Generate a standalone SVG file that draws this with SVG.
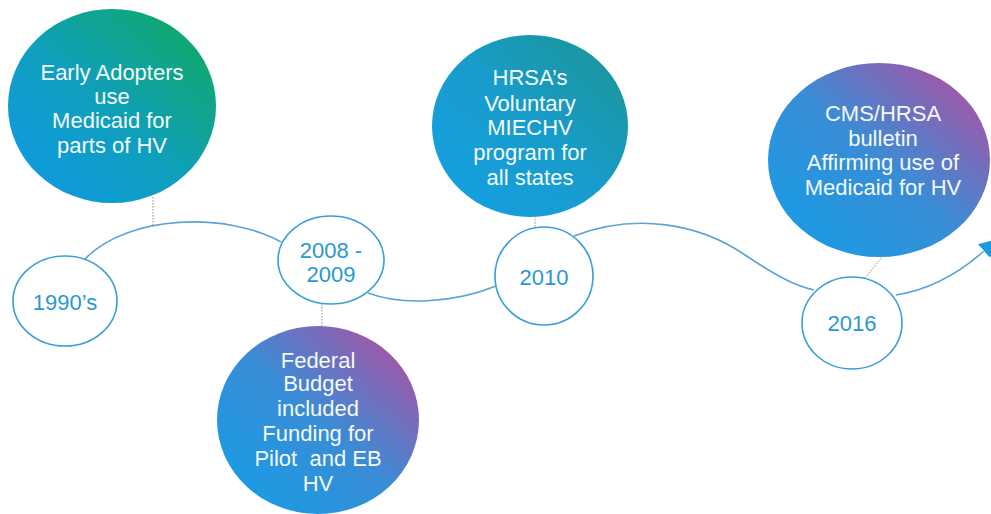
<svg xmlns="http://www.w3.org/2000/svg" width="991" height="514" viewBox="0 0 991 514">
  <style>
    .bubble-text { font-family: "Liberation Sans", Arial, sans-serif; font-size: 22px; fill: #f4f9fc; text-anchor: middle; }
    .year { fill: #ffffff; stroke: #3a9fd4; stroke-width: 1.6; }
    .year-text { font-family: "Liberation Sans", Arial, sans-serif; font-size: 22px; fill: #2a98d2; text-anchor: middle; }
    .curve { fill: none; stroke: #5ba4d4; stroke-width: 1.6; }
    .tick { fill: none; stroke: #8a8a8a; stroke-width: 1; stroke-dasharray: 1.5 1.5; }
  </style>
  <defs>
    <linearGradient id="gGreen" x1="0" y1="1" x2="1" y2="0">
      <stop offset="0" stop-color="#0f98e6"/>
      <stop offset="0.45" stop-color="#0f9fc0"/>
      <stop offset="1" stop-color="#10aa58"/>
    </linearGradient>
    <linearGradient id="gTeal" x1="0" y1="1" x2="1" y2="0">
      <stop offset="0" stop-color="#14a0e6"/>
      <stop offset="0.5" stop-color="#189ccc"/>
      <stop offset="1" stop-color="#1b9590"/>
    </linearGradient>
    <linearGradient id="gMagenta" x1="0" y1="1" x2="1" y2="0">
      <stop offset="0" stop-color="#10a0e8"/>
      <stop offset="0.5" stop-color="#3a8cd6"/>
      <stop offset="1" stop-color="#c0479a"/>
    </linearGradient>
    <marker id="arrow" viewBox="0 0 10 10" refX="0" refY="5" markerWidth="18" markerHeight="18" markerUnits="userSpaceOnUse" orient="auto">
      <path d="M0 0 L10 5 L0 10 Z" fill="#1a9ae0"/>
    </marker>
  </defs>

  <!-- timeline curves and leader ticks -->
  <g id="connectors">
    <path class="curve" d="M85 259 C128 214, 228 212, 281 242"/>
    <path class="curve" d="M368 293 C400 305, 452 304, 496 286"/>
    <path class="curve" d="M574 236 C636 212, 700 224, 745 255 C775 275, 795 286, 814 290"/>
    <path class="curve" d="M896 295 C928 290, 958 274, 984 251" marker-end="url(#arrow)"/>
    <line class="tick" x1="153" y1="197" x2="153" y2="225"/>
    <line class="tick" x1="322" y1="304" x2="322" y2="327"/>
    <line class="tick" x1="535" y1="216" x2="535" y2="229"/>
    <line class="tick" x1="883" y1="256" x2="865" y2="278"/>
  </g>

  <g id="node-early-adopters">
    <ellipse cx="112" cy="106" rx="104" ry="97" fill="url(#gGreen)"/>
    <text class="bubble-text" x="112" y="80">Early Adopters</text>
    <text class="bubble-text" x="112" y="104">use</text>
    <text class="bubble-text" x="112" y="128">Medicaid for</text>
    <text class="bubble-text" x="112" y="153">parts of HV</text>
  </g>

  <g id="node-1990s">
    <ellipse class="year" cx="65" cy="301" rx="52" ry="45"/>
    <text class="year-text" x="65" y="310">1990’s</text>
  </g>

  <g id="node-2008-2009">
    <ellipse class="year" cx="331" cy="260" rx="53" ry="44"/>
    <text class="year-text" x="331" y="258">2008 -</text>
    <text class="year-text" x="331" y="282">2009</text>
  </g>

  <g id="node-federal-budget">
    <ellipse cx="318" cy="420" rx="101" ry="94" fill="url(#gMagenta)"/>
    <text class="bubble-text" x="318" y="368">Federal</text>
    <text class="bubble-text" x="318" y="391">Budget</text>
    <text class="bubble-text" x="318" y="416">included</text>
    <text class="bubble-text" x="318" y="441">Funding for</text>
    <text class="bubble-text" x="318" y="466" xml:space="preserve">Pilot  and EB</text>
    <text class="bubble-text" x="318" y="491">HV</text>
  </g>

  <g id="node-hrsa">
    <ellipse cx="530" cy="126" rx="98" ry="91" fill="url(#gTeal)"/>
    <text class="bubble-text" x="530" y="85">HRSA’s</text>
    <text class="bubble-text" x="530" y="111">Voluntary</text>
    <text class="bubble-text" x="530" y="135">MIECHV</text>
    <text class="bubble-text" x="530" y="160">program for</text>
    <text class="bubble-text" x="530" y="185">all states</text>
  </g>

  <g id="node-2010">
    <ellipse class="year" cx="544" cy="276" rx="49" ry="49"/>
    <text class="year-text" x="544" y="285">2010</text>
  </g>

  <g id="node-cms-hrsa">
    <ellipse cx="879" cy="160" rx="111" ry="97" fill="url(#gMagenta)"/>
    <text class="bubble-text" x="883" y="121">CMS/HRSA</text>
    <text class="bubble-text" x="883" y="146">bulletin</text>
    <text class="bubble-text" x="883" y="170">Affirming use of</text>
    <text class="bubble-text" x="883" y="195">Medicaid for HV</text>
  </g>

  <g id="node-2016">
    <ellipse class="year" cx="852" cy="323" rx="50" ry="46"/>
    <text class="year-text" x="852" y="331">2016</text>
  </g>
</svg>
